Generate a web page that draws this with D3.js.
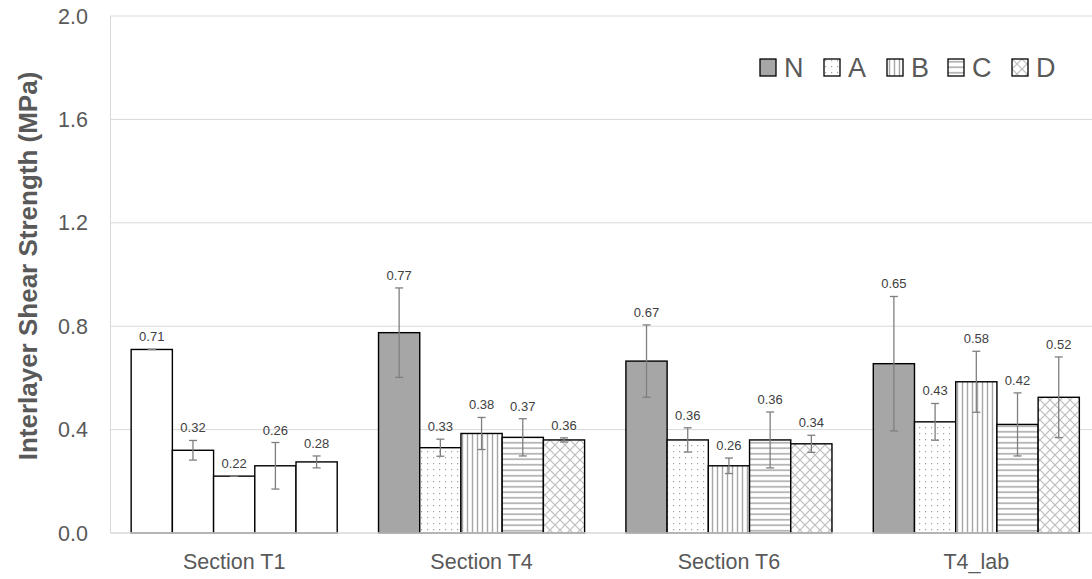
<!DOCTYPE html>
<html>
<head>
<meta charset="utf-8">
<script type="text/javascript" src="https://cdn.jsdelivr.net/npm/d3@7/dist/d3.min.js"></script>
<style>
    body { margin: 0; background: #fff; }
    text { font-family: "Liberation Sans", Arial, sans-serif; }
</style>
</head>
<body>
<div id="viz"></div>
<script type="text/javascript">

    // data
    var categories = ["Section T1", "Section T4", "Section T6", "T4_lab"];
    var seriesNames = ["N", "A", "B", "C", "D"];

    var valN = [0.71, 0.775, 0.665, 0.655];
    var valA = [0.32, 0.33, 0.36, 0.43];
    var valB = [0.22, 0.385, 0.26, 0.585];
    var valC = [0.26, 0.37, 0.36, 0.42];
    var valD = [0.275, 0.36, 0.345, 0.525];

    var errN = [0.0, 0.173, 0.14, 0.26];
    var errA = [0.038, 0.033, 0.047, 0.071];
    var errB = [0.0, 0.062, 0.03, 0.118];
    var errC = [0.09, 0.072, 0.108, 0.122];
    var errD = [0.023, 0.008, 0.033, 0.156];

    var labelN = ["0.71", "0.77", "0.67", "0.65"];
    var labelA = ["0.32", "0.33", "0.36", "0.43"];
    var labelB = ["0.22", "0.38", "0.26", "0.58"];
    var labelC = ["0.26", "0.37", "0.36", "0.42"];
    var labelD = ["0.28", "0.36", "0.34", "0.52"];

    var yTicks = [0.0, 0.4, 0.8, 1.2, 1.6, 2.0];

    var vals = [valN, valA, valB, valC, valD];
    var errs = [errN, errA, errB, errC, errD];
    var labs = [labelN, labelA, labelB, labelC, labelD];

    var W = 1092, H = 579;
    var plotL = 110.5, plotR = 1100, plotT = 16, plotB = 533;

    var svg = d3.select("#viz")
        .append("svg")
        .attr("width", W)
        .attr("height", H);

    // patterns
    var defs = svg.append("defs");
    var pA = defs.append("pattern").attr("id", "pA").attr("patternUnits", "userSpaceOnUse")
        .attr("width", 6).attr("height", 6);
    pA.append("rect").attr("width", 6).attr("height", 6).attr("fill", "#fff");
    pA.append("rect").attr("x", 1).attr("y", 1).attr("width", 1.2).attr("height", 1.2).attr("fill", "#a0a0a0");

    var pB = defs.append("pattern").attr("id", "pB").attr("patternUnits", "userSpaceOnUse")
        .attr("width", 5).attr("height", 5);
    pB.append("rect").attr("width", 5).attr("height", 5).attr("fill", "#fff");
    pB.append("line").attr("x1", 2.5).attr("x2", 2.5).attr("y1", 0).attr("y2", 5)
        .attr("stroke", "#a6a6a6").attr("stroke-width", 1.4);

    var pC = defs.append("pattern").attr("id", "pC").attr("patternUnits", "userSpaceOnUse")
        .attr("width", 5.5).attr("height", 5.5);
    pC.append("rect").attr("width", 5.5).attr("height", 5.5).attr("fill", "#fff");
    pC.append("line").attr("x1", 0).attr("x2", 5.5).attr("y1", 2.75).attr("y2", 2.75)
        .attr("stroke", "#a6a6a6").attr("stroke-width", 1.5);

    var pD = defs.append("pattern").attr("id", "pD").attr("patternUnits", "userSpaceOnUse")
        .attr("width", 10).attr("height", 10);
    pD.append("rect").attr("width", 10).attr("height", 10).attr("fill", "#fff");
    pD.append("path").attr("d", "M0,0L10,10M10,0L0,10")
        .attr("stroke", "#bdbdbd").attr("stroke-width", 1.2).attr("fill", "none");

    var fills = ["#a6a6a6", "url(#pA)", "url(#pB)", "url(#pC)", "url(#pD)"];

    var x0 = d3.scaleBand().domain(categories).range([plotL, plotR])
        .paddingInner(0.167).paddingOuter(0.0835);
    var x1 = d3.scaleBand().domain(seriesNames).range([0, x0.bandwidth()]);
    var y = d3.scaleLinear().domain([0, 2]).range([plotB, plotT]);

    // gridlines
    svg.append("g").selectAll("line").data(yTicks.filter(function (d) { return d > 0; }))
        .enter().append("line")
        .attr("x1", plotL).attr("x2", W)
        .attr("y1", function (d) { return y(d); }).attr("y2", function (d) { return y(d); })
        .attr("stroke", "#d9d9d9").attr("stroke-width", 1);

    // left axis line
    svg.append("line").attr("x1", plotL).attr("x2", plotL).attr("y1", plotT).attr("y2", plotB)
        .attr("stroke", "#d9d9d9").attr("stroke-width", 1);

    // y tick labels
    svg.append("g").selectAll("text").data(yTicks).enter().append("text")
        .attr("x", 88).attr("y", function (d) { return y(d) + 7.5; })
        .attr("text-anchor", "end")
        .attr("font-size", 21.5).attr("fill", "#595959")
        .text(function (d) { return d.toFixed(1); });

    // y title
    svg.append("text")
        .attr("transform", "translate(37,266) rotate(-90)")
        .attr("text-anchor", "middle")
        .attr("font-size", 26).attr("font-weight", "bold").attr("fill", "#595959")
        .text("Interlayer Shear Strength (MPa)");

    // bars
    var rows = [];
    categories.forEach(function (c, ci) {
        seriesNames.forEach(function (s, si) {
            rows.push({ cat: c, ci: ci, ser: s, si: si, v: vals[si][ci], e: errs[si][ci], lab: labs[si][ci] });
        });
    });

    var bx = function (d) { return x0(d.cat) + x1(d.ser); };
    var cx = function (d) { return bx(d) + x1.bandwidth() / 2; };

    svg.append("g").selectAll("rect").data(rows).enter().append("rect")
        .attr("x", bx)
        .attr("y", function (d) { return y(d.v); })
        .attr("width", x1.bandwidth())
        .attr("height", function (d) { return y(0) - y(d.v); })
        .attr("fill", function (d) { return d.ci === 0 ? "#fff" : fills[d.si]; })
        .attr("stroke", "#000").attr("stroke-width", 1.4);

    // baseline
    svg.append("line").attr("x1", plotL).attr("x2", W).attr("y1", plotB).attr("y2", plotB)
        .attr("stroke", "#d9d9d9").attr("stroke-width", 1.5);

    // error bars
    var eg = svg.append("g").attr("stroke", "#7f7f7f").attr("stroke-width", 1.3);
    rows.forEach(function (d) {
        var c = cx(d), t = y(d.v + d.e), b = y(d.v - d.e);
        eg.append("line").attr("x1", c).attr("x2", c).attr("y1", t).attr("y2", b);
        eg.append("line").attr("x1", c - 4).attr("x2", c + 4).attr("y1", t).attr("y2", t);
        eg.append("line").attr("x1", c - 4).attr("x2", c + 4).attr("y1", b).attr("y2", b);
    });

    // data labels
    svg.append("g").selectAll("text").data(rows).enter().append("text")
        .attr("x", cx)
        .attr("y", function (d) { return y(d.v + d.e) - 8; })
        .attr("text-anchor", "middle")
        .attr("font-size", 13).attr("fill", "#404040")
        .text(function (d) { return d.lab; });

    // category labels
    svg.append("g").selectAll("text").data(categories).enter().append("text")
        .attr("x", function (d) { return x0(d) + x0.bandwidth() / 2; })
        .attr("y", 569)
        .attr("text-anchor", "middle")
        .attr("font-size", 21.5).attr("fill", "#595959")
        .text(function (d) { return d; });

    // legend
    var legX = [760, 824, 887, 948, 1012];
    var lg = svg.append("g").selectAll("g").data(seriesNames).enter().append("g")
        .attr("transform", function (d, i) { return "translate(" + legX[i] + ",59)"; });
    lg.append("rect").attr("width", 16).attr("height", 17)
        .attr("fill", function (d, i) { return fills[i]; })
        .attr("stroke", "#000").attr("stroke-width", 1.3);
    lg.append("text").attr("x", 24).attr("y", 18)
        .attr("font-size", 27).attr("fill", "#595959")
        .text(function (d) { return d; });

</script>
</body>
</html>
